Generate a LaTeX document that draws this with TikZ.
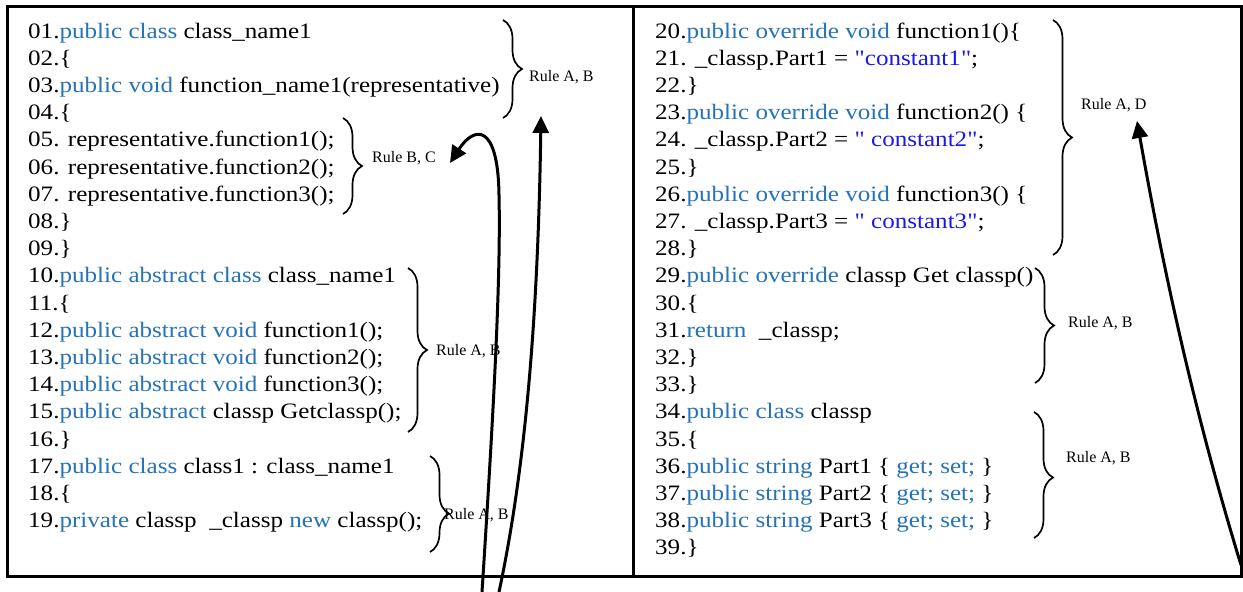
\documentclass[tikz,border=0pt]{standalone}
\usepackage{fontspec}
\setmainfont{Liberation Serif}
\newfontfamily\codefont{Liberation Serif}[FakeStretch=1.14]
\usetikzlibrary{arrows.meta,decorations.pathreplacing}
\definecolor{kwblue}{RGB}{38,115,182}
\definecolor{strblue}{RGB}{25,25,235}
\newcommand\kw[1]{\textcolor{kwblue}{#1}}
\newcommand\str[1]{\textcolor{strblue}{#1}}
% one line of code: name, left x, row (0-based), text
\newcommand\codeat[4]{\node[codeline] (#1) at (#2,{38+27.2*#3}) {#4};}
\tikzset{
  codeline/.style={anchor=base west, inner sep=0pt, font=\codefont\fontsize{22}{26}\selectfont},
  rulelabel/.style={anchor=west, inner sep=0pt, font=\fontsize{16}{18}\selectfont},
  frame/.style={line width=3pt, black},
  bracket/.style={decorate, decoration={brace, amplitude=19pt, aspect=#1}, line width=1.7pt},
  bracket/.default=0.5,
  pointer/.style={line width=3pt, -{Triangle[length=17pt,width=16pt]}}
}
\begin{document}
\begin{tikzpicture}[x=1pt,y=-1pt]
\useasboundingbox[fill=white] (0,0) rectangle (1243,592);

% outer frame and column divider
\draw[frame] (7,6) rectangle (1241,576);
\draw[frame] (633,6) -- (633,576);

% left column
\codeat{L01}{28}{0}{01.\kw{public class} class\_name1}
\codeat{L02}{28}{1}{02.\{}
\codeat{L03}{28}{2}{03.\kw{public void} function\_name1(representative)}
\codeat{L04}{28}{3}{04.\{}
\codeat{L05}{28}{4}{05. representative.function1();}
\codeat{L06}{28}{5}{06. representative.function2();}
\codeat{L07}{28}{6}{07. representative.function3();}
\codeat{L08}{28}{7}{08.\}}
\codeat{L09}{28}{8}{09.\}}
\codeat{L10}{28}{9}{10.\kw{public abstract class} class\_name1}
\codeat{L11}{28}{10}{11.\{}
\codeat{L12}{28}{11}{12.\kw{public abstract void} function1();}
\codeat{L13}{28}{12}{13.\kw{public abstract void} function2();}
\codeat{L14}{28}{13}{14.\kw{public abstract void} function3();}
\codeat{L15}{28}{14}{15.\kw{public abstract} classp Getclassp();}
\codeat{L16}{28}{15}{16.\}}
\codeat{L17}{28}{16}{17.\kw{public class} class1 : class\_name1}
\codeat{L18}{28}{17}{18.\{}
\codeat{L19}{28}{18}{19.\kw{private} classp~ \_classp \kw{new} classp();}

% right column
\codeat{L20}{655}{0}{20.\kw{public override void} function1()\{}
\codeat{L21}{655}{1}{21. \_classp.Part1 = \str{"constant1"};}
\codeat{L22}{655}{2}{22.\}}
\codeat{L23}{655}{3}{23.\kw{public override void} function2() \{}
\codeat{L24}{655}{4}{24. \_classp.Part2 = \str{" constant2"};}
\codeat{L25}{655}{5}{25.\}}
\codeat{L26}{655}{6}{26.\kw{public override void} function3() \{}
\codeat{L27}{655}{7}{27. \_classp.Part3 = \str{" constant3"};}
\codeat{L28}{655}{8}{28.\}}
\codeat{L29}{655}{9}{29.\kw{public override} classp Get classp()}
\codeat{L30}{655}{10}{30.\{}
\codeat{L31}{655}{11}{31.\kw{return}~ \_classp;}
\codeat{L32}{655}{12}{32.\}}
\codeat{L33}{655}{13}{33.\}}
\codeat{L34}{655}{14}{34.\kw{public class} classp}
\codeat{L35}{655}{15}{35.\{}
\codeat{L36}{655}{16}{36.\kw{public string} Part1 \{ \kw{get; set;} \}}
\codeat{L37}{655}{17}{37.\kw{public string} Part2 \{ \kw{get; set;} \}}
\codeat{L38}{655}{18}{38.\kw{public string} Part3 \{ \kw{get; set;} \}}
\codeat{L39}{655}{19}{39.\}}

% braces grouping the code
\draw[bracket] (503,20) -- (503,118);
\draw[bracket] (343,118) -- (343,214);
\draw[bracket] (408,268) -- (408,432);
\draw[bracket=0.6] (430,456) -- (430,552);
\draw[bracket] (1053,20) -- (1053,255);
\draw[bracket] (1035,268) -- (1035,383);
\draw[bracket=0.52] (1034,412) -- (1034,538);

% rule labels
\node[rulelabel] (R1) at (529,77) {Rule A, B};
\node[rulelabel] (R2) at (372,158) {Rule B, C};
\node[rulelabel] (R3) at (436,351) {Rule A, B};
\node[rulelabel] (R4) at (444,515) {Rule A, B};
\node[rulelabel] (R5) at (1081,105) {Rule A, D};
\node[rulelabel] (R6) at (1068,323) {Rule A, B};
\node[rulelabel] (R7) at (1066,458) {Rule A, B};

% pointers
\coordinate (S1) at (482,592);
\coordinate (S2) at (499,592);
\coordinate (S3) at (1241,565);
\coordinate (T1) at (450,163);
\coordinate (T2) at (541,116);
\coordinate (T3) at (1137,121);
\draw[pointer] (S1) .. controls (493,420) and (501,280) .. (499,195)
                    .. controls (498,122) and (474,126) .. (T1);
\draw[pointer] (S2) .. controls (525,470) and (538,320) .. (T2);
\draw[pointer] (S3) .. controls (1192,405) and (1162,262) .. (T3);
\end{tikzpicture}
\end{document}
